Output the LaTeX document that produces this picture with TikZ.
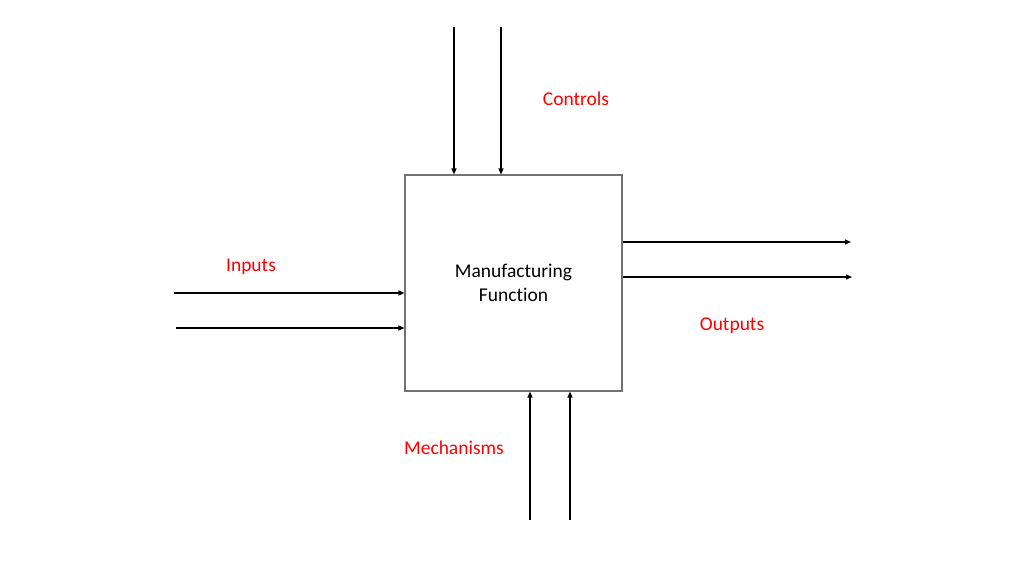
\documentclass[tikz,border=0pt]{standalone}
\usepackage{fontspec}
\setmainfont{Carlito}[Ligatures=NoCommon]
\usetikzlibrary{arrows.meta}
\begin{document}
\begin{tikzpicture}[x=1pt,y=-1pt,
  arr/.style={line width=1.3pt,-{Triangle[length=6pt,width=5pt]}},
  lbl/.style={text=red,font=\fontsize{19.5}{23}\selectfont,inner sep=0pt},
  fbox/.style={draw=black!55,line width=1.1pt,minimum width=217pt,minimum height=216pt,inner sep=0pt,align=center,font=\fontsize{19.5}{23.5}\selectfont}]
\useasboundingbox (0,0) rectangle (1024,576);
\node[fbox] (f) at (513.5,283) {Manufacturing\\Function};
\coordinate (c1) at (454,27);
\coordinate (c2) at (501,27);
\coordinate (i1) at (174,293);
\coordinate (i2) at (176,328);
\coordinate (o1) at (851,242);
\coordinate (o2) at (852,277);
\coordinate (m1) at (530,520);
\coordinate (m2) at (570,520);
\draw[arr] (c1) -- (c1 |- f.north);
\draw[arr] (c2) -- (c2 |- f.north);
\draw[arr] (i1) -- (i1 -| f.west);
\draw[arr] (i2) -- (i2 -| f.west);
\draw[arr] (o1 -| f.east) -- (o1);
\draw[arr] (o2 -| f.east) -- (o2);
\draw[arr] (m1) -- (m1 |- f.south);
\draw[arr] (m2) -- (m2 |- f.south);
\node[lbl] (lc) at (576,99) {Controls};
\node[lbl] (li) at (251,267) {Inputs};
\node[lbl] (lo) at (732,326) {Outputs};
\node[lbl] (lm) at (454,448) {Mechanisms};
\end{tikzpicture}
\end{document}
